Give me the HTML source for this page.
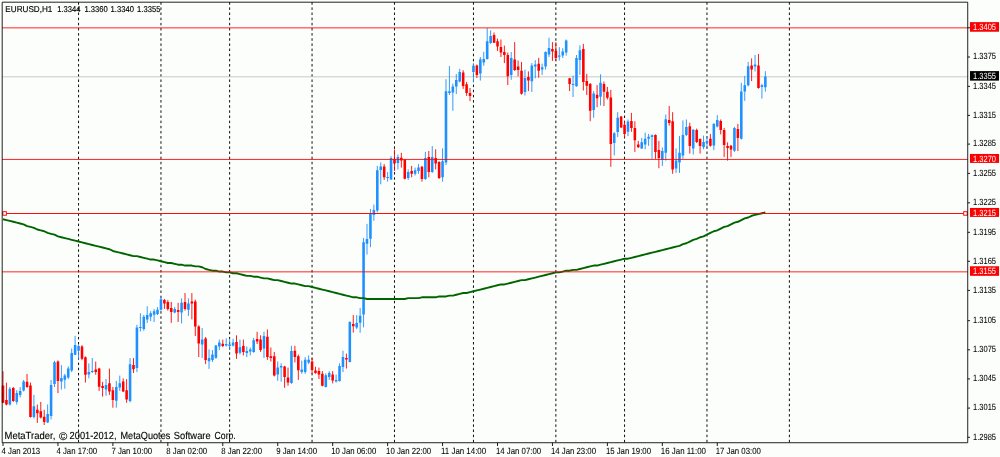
<!DOCTYPE html>
<html lang="en"><head><meta charset="utf-8"><title>EURUSD,H1</title>
<style>html,body{margin:0;padding:0;background:#fcfefb;overflow:hidden}svg{display:block}text{font-family:"Liberation Sans",sans-serif;fill:#000;text-rendering:geometricPrecision}.ax{font-size:9.0px;stroke:#000;stroke-width:0.06px}.ti{font-size:8.5px;stroke:#000;stroke-width:0.15px}.cp{font-size:10.3px;stroke:#000;stroke-width:0.12px}.w{fill:#fff;stroke:none}</style></head><body>
<svg width="1000" height="457" viewBox="0 0 1000 457">
<rect x="0" y="0" width="1000" height="457" fill="#fcfefb"/>
<g stroke="#000" stroke-width="0.95" stroke-dasharray="2.5 2.648" stroke-dashoffset="-0.05">
<line x1="78.55" y1="2.19" x2="78.55" y2="442.73"/>
<line x1="160.96" y1="2.19" x2="160.96" y2="442.73"/>
<line x1="229.64" y1="2.19" x2="229.64" y2="442.73"/>
<line x1="312.06" y1="2.19" x2="312.06" y2="442.73"/>
<line x1="394.48" y1="2.19" x2="394.48" y2="442.73"/>
<line x1="473.46" y1="2.19" x2="473.46" y2="442.73"/>
<line x1="555.87" y1="2.19" x2="555.87" y2="442.73"/>
<line x1="624.55" y1="2.19" x2="624.55" y2="442.73"/>
<line x1="706.97" y1="2.19" x2="706.97" y2="442.73"/>
<line x1="789.39" y1="2.19" x2="789.39" y2="442.73"/>
</g>
<line x1="2.19" y1="76.8" x2="967.73" y2="76.8" stroke="#c0c0c0" stroke-width="0.86"/>
<path d="M9.87 387.0V405.4M16.74 390.2V404.5M20.17 387.0V397.5M23.60 380.0V391.4M33.91 394.9V418.5M47.64 404.5V422.9M51.08 380.0V419.4M54.51 360.8V387.0M61.38 365.1V389.6M64.81 373.9V388.8M68.25 366.4V379.1M71.68 348.5V372.1M75.11 335.9V355.2M78.55 345.0V359.7M88.85 363.4V378.3M92.28 358.1V373.0M106.02 379.1V395.8M116.32 380.9V407.7M119.76 375.6V390.9M130.06 358.1V402.4M136.93 324.8V372.1M140.36 313.3V331.6M143.79 315.0V330.8M147.23 306.3V322.9M150.66 311.2V321.1M154.10 308.9V322.0M157.53 307.1V315.0M160.96 296.6V310.6M174.70 307.1V313.3M181.57 298.4V323.4M188.44 298.4V315.9M202.17 328.1V358.0M209.04 349.3V368.9M212.47 350.1V361.9M215.91 344.9V358.9M219.34 339.6V350.1M226.21 338.4V346.6M229.64 339.6V349.3M233.08 338.8V346.6M239.95 339.6V354.5M246.81 346.6V357.1M250.25 347.5V355.4M253.68 337.9V352.8M263.98 331.8V358.0M277.72 361.5V380.8M281.15 363.3V381.6M291.46 345.8V383.9M301.76 360.6V373.8M305.19 357.1V373.8M308.63 355.4V364.1M325.80 373.4V387.4M329.23 371.1V379.9M336.10 374.6V382.5M339.53 363.3V381.6M342.97 350.7V372.0M349.83 321.3V362.4M356.70 315.1V329.1M360.14 308.1V332.6M363.57 237.9V327.4M367.00 223.9V254.5M370.44 209.0V247.2M373.87 204.6V220.9M377.31 165.9V212.5M380.74 162.4V184.3M387.61 172.0V181.6M391.04 156.3V179.9M397.91 154.5V169.4M408.21 169.4V179.9M415.08 167.6V175.5M418.51 164.1V173.8M425.38 151.9V179.9M432.25 146.1V172.9M442.55 148.4V181.6M445.99 79.2V165.0M449.42 66.1V95.0M452.85 83.6V110.8M456.29 74.0V94.1M459.72 68.8V82.4M473.46 63.1V82.4M480.33 57.0V80.6M483.76 51.8V65.8M487.19 28.1V59.6M490.63 30.4V43.9M511.23 52.1V79.8M524.97 69.6V95.5M531.84 63.1V92.0M535.27 60.2V78.4M542.14 63.7V74.9M545.57 51.4V69.6M549.01 37.8V57.0M559.31 47.2V60.5M562.74 48.2V58.0M566.18 39.5V55.6M573.04 75.5V97.0M576.48 55.0V86.7M579.91 45.4V74.9M593.65 91.1V117.8M600.52 74.3V105.5M614.25 132.1V155.4M617.69 112.2V137.0M627.99 119.5V136.1M641.72 137.9V148.9M645.16 132.6V149.3M648.59 133.9V145.8M652.03 134.4V158.9M662.33 147.5V165.9M665.76 114.6V160.6M676.06 148.4V172.9M679.50 136.1V172.9M682.93 120.4V158.9M686.37 119.5V136.1M693.23 129.1V154.5M703.54 135.6V149.3M706.97 136.1V147.5M713.84 123.0V150.1M717.27 115.1V127.4M734.44 126.9V151.9M741.31 82.9V139.6M744.74 75.9V100.9M748.18 61.9V86.4M755.05 54.9V71.5M761.91 83.8V98.6M765.35 71.2V91.6" stroke="#1e90ff" stroke-width="0.9" fill="none"/>
<path d="M9.87 388.8V404.5M16.74 393.1V401.9M20.17 390.9V394.9M23.60 381.4V390.5M33.91 406.3V417.1M47.64 414.1V422.4M51.08 384.9V415.9M54.51 362.2V383.9M61.38 377.9V381.4M64.81 375.6V379.7M68.25 368.6V377.4M71.68 352.9V370.4M75.11 345.1V354.7M78.55 346.1V350.7M88.85 372.1V374.4M92.28 370.9V372.1M106.02 384.9V389.6M116.32 387.0V400.7M119.76 383.2V387.4M130.06 364.3V401.0M136.93 327.6V367.9M140.36 326.9V328.1M143.79 316.8V329.0M147.23 315.0V319.4M150.66 313.3V316.8M154.10 311.2V314.7M157.53 309.8V314.1M160.96 299.3V309.8M174.70 308.9V312.4M181.57 302.8V312.4M188.44 303.6V309.8M202.17 339.6V344.4M209.04 358.0V361.2M212.47 354.5V360.1M215.91 345.4V357.7M219.34 342.6V346.6M226.21 344.0V345.4M229.64 344.4V346.1M233.08 342.6V345.4M239.95 347.2V352.8M246.81 351.0V353.1M250.25 349.6V351.4M253.68 340.2V351.9M263.98 336.1V348.4M277.72 367.6V374.6M281.15 365.9V367.6M291.46 351.0V382.9M301.76 369.4V372.0M305.19 359.8V372.0M308.63 359.8V362.4M325.80 375.2V386.9M329.23 372.9V376.9M336.10 379.9V381.6M339.53 365.9V381.1M342.97 357.1V367.1M349.83 322.1V361.9M356.70 323.0V327.4M360.14 315.7V322.7M363.57 242.2V314.6M367.00 239.1V243.7M370.44 213.4V238.8M373.87 209.9V215.1M377.31 170.2V210.4M380.74 166.4V169.9M387.61 176.9V178.1M391.04 158.0V179.4M397.91 157.1V162.9M408.21 172.0V178.1M415.08 170.3V173.8M418.51 167.6V171.1M425.38 158.0V179.0M432.25 157.1V172.0M442.55 161.2V177.3M445.99 91.2V162.4M449.42 91.2V92.9M452.85 86.6V92.4M456.29 80.1V86.6M459.72 71.9V81.4M473.46 65.8V71.9M480.33 59.6V73.6M483.76 59.1V62.6M487.19 41.3V59.1M490.63 36.0V43.0M511.23 57.9V74.9M524.97 78.0V92.0M531.84 65.4V81.2M535.27 64.4V66.6M542.14 67.2V69.6M545.57 52.1V66.6M549.01 47.9V54.4M559.31 55.6V56.8M562.74 51.4V55.6M566.18 40.6V52.6M573.04 83.9V85.1M576.48 58.0V86.3M579.91 50.2V59.9M593.65 93.5V109.9M600.52 82.7V96.8M614.25 133.2V143.1M617.69 117.8V132.1M627.99 121.6V131.8M641.72 142.3V148.4M645.16 138.8V144.4M648.59 136.7V138.8M652.03 135.3V137.0M662.33 151.0V159.8M665.76 119.2V152.8M676.06 160.6V168.5M679.50 152.8V162.4M682.93 134.9V155.4M686.37 126.9V134.9M693.23 129.7V148.4M703.54 141.9V147.2M706.97 140.9V143.1M713.84 123.9V145.4M717.27 119.9V126.5M734.44 127.9V150.7M741.31 91.6V138.8M744.74 85.2V91.6M748.18 66.2V85.2M755.05 64.5V66.6M761.91 85.2V86.9M765.35 76.4V87.2" stroke="#1e90ff" stroke-width="2.57" fill="none"/>
<path d="M3.00 371.3V403.1M6.43 382.6V405.4M13.30 387.0V401.9M27.04 373.9V387.9M30.47 382.6V417.6M37.34 404.5V422.9M40.77 401.9V418.5M44.21 409.8V425.0M57.94 360.4V393.1M81.98 345.1V360.2M85.42 356.4V382.6M95.72 361.6V374.8M99.15 367.8V390.9M102.59 381.8V396.6M109.45 368.6V394.9M112.89 387.0V407.7M123.19 378.3V391.9M126.62 379.1V402.8M133.49 358.1V373.0M164.40 298.9V308.9M167.83 300.1V310.6M171.27 301.9V322.9M178.13 302.8V322.0M185.00 293.1V310.6M191.87 293.1V319.4M195.30 299.6V336.0M198.74 325.2V357.0M205.61 337.0V364.1M222.78 339.6V347.2M236.51 335.3V358.9M243.38 339.6V355.4M257.12 331.8V344.0M260.55 335.3V351.9M267.42 329.5V359.8M270.85 347.5V361.5M274.29 351.9V376.4M284.59 365.9V387.8M288.02 367.6V385.7M294.89 345.8V362.4M298.32 354.5V379.9M312.06 358.0V373.8M315.49 366.8V373.8M318.93 367.6V379.0M322.36 371.1V386.4M332.66 371.1V383.4M346.40 353.6V368.5M353.27 315.1V332.6M384.17 164.1V179.9M394.48 149.6V171.1M401.34 152.8V167.6M404.78 158.9V179.4M411.65 165.9V177.3M421.95 165.9V181.6M428.82 151.0V177.3M435.68 149.3V169.4M439.12 161.2V179.0M463.16 70.2V88.9M466.59 81.9V95.9M470.02 88.0V101.1M476.89 64.5V78.0M494.06 32.5V43.0M497.50 38.6V50.9M500.93 39.5V57.0M504.36 45.6V63.1M507.80 52.6V85.0M514.67 42.1V71.0M518.10 60.5V76.3M521.53 61.9V94.6M528.40 71.4V91.1M538.70 57.9V77.7M552.44 42.1V60.9M555.87 42.1V60.9M569.61 77.9V91.1M583.35 43.9V90.5M586.78 73.9V95.0M590.21 83.0V121.2M597.08 85.1V107.2M603.95 81.5V106.0M607.38 86.9V99.5M610.82 89.9V166.8M621.12 116.0V127.9M624.55 121.3V137.9M631.42 112.9V131.8M634.86 121.3V151.9M638.29 140.9V147.9M655.46 134.4V158.9M658.89 140.9V168.2M669.20 105.9V125.6M672.63 112.2V173.8M689.80 122.7V153.6M696.67 128.6V143.1M700.10 138.4V153.6M710.40 133.9V146.6M720.71 119.5V134.4M724.14 127.9V157.1M727.57 142.3V160.6M731.01 144.9V157.1M737.88 123.9V151.0M751.61 58.4V81.1M758.48 54.0V88.7" stroke="#ff0000" stroke-width="0.9" fill="none"/>
<path d="M3.00 385.6V402.8M6.43 400.1V404.5M13.30 387.9V401.0M27.04 381.8V387.0M30.47 385.6V417.1M37.34 409.8V413.3M40.77 411.2V417.6M44.21 416.8V422.0M57.94 361.6V380.9M81.98 346.6V358.7M85.42 357.3V374.8M95.72 369.5V372.1M99.15 368.6V386.7M102.59 386.1V387.9M109.45 383.2V391.4M112.89 390.2V400.1M123.19 381.4V391.4M126.62 390.2V399.6M133.49 365.1V369.2M164.40 300.1V303.6M167.83 301.9V308.9M171.27 308.0V311.9M178.13 310.1V311.9M185.00 301.9V308.9M191.87 301.4V303.6M195.30 301.4V326.4M198.74 326.4V343.4M205.61 338.4V360.1M222.78 343.7V346.1M236.51 341.9V353.6M243.38 346.1V351.9M257.12 339.1V341.4M260.55 339.6V350.1M267.42 336.7V357.1M270.85 356.3V358.0M274.29 356.3V375.5M284.59 366.4V376.9M288.02 377.6V382.5M294.89 350.7V357.1M298.32 356.3V370.3M312.06 361.5V369.9M315.49 370.6V372.9M318.93 371.1V374.6M322.36 373.8V385.7M332.66 374.6V380.4M346.40 358.0V359.4M353.27 323.9V326.2M384.17 166.4V177.3M394.48 158.9V163.6M401.34 157.7V160.6M404.78 159.8V178.7M411.65 171.1V173.8M421.95 166.8V179.0M428.82 157.1V172.0M435.68 158.0V163.6M439.12 161.9V178.1M463.16 72.6V85.9M466.59 84.2V92.9M470.02 92.9V95.9M476.89 65.4V74.9M494.06 35.1V42.7M497.50 41.3V46.5M500.93 46.9V52.6M504.36 52.1V54.9M507.80 54.9V76.3M514.67 59.6V70.1M518.10 66.6V70.1M521.53 70.7V93.8M528.40 77.1V80.6M538.70 63.7V70.7M552.44 49.1V51.4M555.87 50.9V57.9M569.61 78.3V83.9M583.35 49.0V82.1M586.78 80.9V85.7M590.21 83.9V110.8M597.08 94.7V98.2M603.95 83.9V91.7M607.38 91.7V97.8M610.82 97.6V144.0M621.12 116.4V127.4M624.55 124.8V133.9M631.42 120.9V127.9M634.86 127.9V140.2M638.29 144.4V147.2M655.46 134.9V151.9M658.89 150.1V158.0M669.20 119.9V123.0M672.63 121.3V169.4M689.80 126.2V146.1M696.67 130.0V141.9M700.10 139.1V146.1M710.40 138.8V145.8M720.71 120.9V130.0M724.14 130.0V144.9M727.57 146.1V147.9M731.01 145.8V149.6M737.88 129.1V137.9M751.61 65.4V69.4M758.48 65.4V88.1" stroke="#ff0000" stroke-width="2.57" fill="none"/>
<polyline fill="none" stroke="#006400" stroke-width="1.9" stroke-linejoin="round" points="3.00,219.22 6.43,220.08 9.87,220.94 13.30,221.79 16.74,222.65 20.17,223.51 23.60,224.37 27.04,226.08 30.47,226.94 33.91,227.80 37.34,229.51 40.77,230.37 44.21,231.23 47.64,232.95 51.08,233.81 54.51,234.66 57.94,236.38 61.38,237.24 64.81,238.09 68.25,238.95 71.68,239.81 75.11,240.67 78.55,241.53 81.98,242.38 85.42,243.24 88.85,244.10 92.28,244.96 95.72,245.82 99.15,246.67 102.59,247.53 106.02,248.39 109.45,249.25 112.89,250.97 116.32,251.82 119.76,252.68 123.19,253.54 126.62,254.40 130.06,255.25 133.49,256.11 136.93,256.11 140.36,256.97 143.79,257.83 147.23,258.69 150.66,259.55 154.10,259.55 157.53,260.40 160.96,261.26 164.40,262.12 167.83,262.98 171.27,262.98 174.70,263.83 178.13,264.69 181.57,264.69 185.00,265.55 188.44,265.55 191.87,265.55 195.30,266.41 198.74,266.41 202.17,267.27 205.61,268.98 209.04,269.84 212.47,270.70 215.91,270.70 219.34,271.56 222.78,271.56 226.21,272.42 229.64,272.42 233.08,273.27 236.51,273.27 239.95,274.13 243.38,274.99 246.81,275.85 250.25,275.85 253.68,276.70 257.12,276.70 260.55,277.56 263.98,278.42 267.42,278.42 270.85,279.28 274.29,280.14 277.72,280.14 281.15,281.00 284.59,281.85 288.02,282.71 291.46,283.57 294.89,283.57 298.32,284.43 301.76,285.28 305.19,286.14 308.63,286.14 312.06,287.00 315.49,287.86 318.93,288.72 322.36,289.57 325.80,290.43 329.23,291.29 332.66,292.15 336.10,293.01 339.53,293.87 342.97,294.72 346.40,295.58 349.83,296.44 353.27,297.30 356.70,297.30 360.14,298.15 363.57,298.15 367.00,299.01 370.44,299.01 373.87,299.01 377.31,299.01 380.74,299.01 384.17,299.01 387.61,299.01 391.04,299.01 394.48,299.01 397.91,299.01 401.34,299.01 404.78,299.01 408.21,298.15 411.65,298.15 415.08,298.15 418.51,298.15 421.95,297.30 425.38,297.30 428.82,297.30 432.25,297.30 435.68,297.30 439.12,296.44 442.55,296.44 445.99,296.44 449.42,295.58 452.85,295.58 456.29,294.72 459.72,293.87 463.16,293.01 466.59,293.01 470.02,292.15 473.46,291.29 476.89,290.43 480.33,289.57 483.76,288.72 487.19,287.86 490.63,287.00 494.06,286.14 497.50,285.28 500.93,284.43 504.36,284.43 507.80,283.57 511.23,282.71 514.67,281.85 518.10,281.00 521.53,280.14 524.97,280.14 528.40,279.28 531.84,278.42 535.27,277.56 538.70,276.70 542.14,275.85 545.57,274.99 549.01,274.13 552.44,273.27 555.87,272.42 559.31,272.42 562.74,271.56 566.18,270.70 569.61,270.70 573.04,269.84 576.48,269.84 579.91,268.98 583.35,268.12 586.78,267.27 590.21,266.41 593.65,265.55 597.08,265.55 600.52,264.69 603.95,263.83 607.38,262.98 610.82,262.12 614.25,261.26 617.69,260.40 621.12,259.55 624.55,258.69 627.99,258.69 631.42,257.83 634.86,256.97 638.29,256.11 641.72,255.25 645.16,254.40 648.59,253.54 652.03,252.68 655.46,251.82 658.89,250.97 662.33,250.11 665.76,249.25 669.20,248.39 672.63,247.53 676.06,246.67 679.50,245.82 682.93,244.10 686.37,243.24 689.80,241.53 693.23,239.81 696.67,238.95 700.10,237.24 703.54,236.38 706.97,234.66 710.40,232.95 713.84,231.23 717.27,230.37 720.71,228.66 724.14,226.94 727.57,226.08 731.01,224.37 734.44,222.65 737.88,221.79 741.31,220.08 744.74,218.36 748.18,217.50 751.61,215.79 755.05,214.93 758.48,214.07 761.91,213.21 765.35,212.35"/>
<line x1="2.19" y1="27.87" x2="967.73" y2="27.87" stroke="#ff0000" stroke-width="0.86"/>
<line x1="2.19" y1="159.45" x2="967.73" y2="159.45" stroke="#ff0000" stroke-width="0.86"/>
<line x1="2.19" y1="271.85" x2="967.73" y2="271.85" stroke="#ff0000" stroke-width="0.86"/>
<line x1="4.6" y1="213.5" x2="965.2" y2="213.5" stroke="#ff0000" stroke-width="0.95"/>
<rect x="2.8499999999999996" y="211.7" width="3.5" height="3.5" fill="#fff" stroke="#ff0000" stroke-width="0.95"/>
<rect x="963.7" y="211.7" width="3.5" height="3.5" fill="#fff" stroke="#ff0000" stroke-width="0.95"/>
<path d="M2.19 2.19H967.73V442.73H2.19Z" fill="none" stroke="#000" stroke-width="0.87"/>
<g class="ax">
<line x1="967.73" y1="57.03" x2="970.03" y2="57.03" stroke="#000" stroke-width="0.9"/>
<text x="973" y="59.38" textLength="23" lengthAdjust="spacingAndGlyphs">1.3375</text>
<line x1="967.73" y1="86.36" x2="970.03" y2="86.36" stroke="#000" stroke-width="0.9"/>
<text x="973" y="88.71" textLength="23" lengthAdjust="spacingAndGlyphs">1.3345</text>
<line x1="967.73" y1="115.40" x2="970.03" y2="115.40" stroke="#000" stroke-width="0.9"/>
<text x="973" y="117.75" textLength="23" lengthAdjust="spacingAndGlyphs">1.3315</text>
<line x1="967.73" y1="144.10" x2="970.03" y2="144.10" stroke="#000" stroke-width="0.9"/>
<text x="973" y="146.45" textLength="23" lengthAdjust="spacingAndGlyphs">1.3285</text>
<line x1="967.73" y1="173.40" x2="970.03" y2="173.40" stroke="#000" stroke-width="0.9"/>
<text x="973" y="175.75" textLength="23" lengthAdjust="spacingAndGlyphs">1.3255</text>
<line x1="967.73" y1="202.80" x2="970.03" y2="202.80" stroke="#000" stroke-width="0.9"/>
<text x="973" y="205.15" textLength="23" lengthAdjust="spacingAndGlyphs">1.3225</text>
<line x1="967.73" y1="232.30" x2="970.03" y2="232.30" stroke="#000" stroke-width="0.9"/>
<text x="973" y="234.65" textLength="23" lengthAdjust="spacingAndGlyphs">1.3195</text>
<line x1="967.73" y1="261.30" x2="970.03" y2="261.30" stroke="#000" stroke-width="0.9"/>
<text x="973" y="263.65" textLength="23" lengthAdjust="spacingAndGlyphs">1.3165</text>
<line x1="967.73" y1="290.40" x2="970.03" y2="290.40" stroke="#000" stroke-width="0.9"/>
<text x="973" y="292.75" textLength="23" lengthAdjust="spacingAndGlyphs">1.3135</text>
<line x1="967.73" y1="320.70" x2="970.03" y2="320.70" stroke="#000" stroke-width="0.9"/>
<text x="973" y="323.05" textLength="23" lengthAdjust="spacingAndGlyphs">1.3105</text>
<line x1="967.73" y1="349.80" x2="970.03" y2="349.80" stroke="#000" stroke-width="0.9"/>
<text x="973" y="352.15" textLength="23" lengthAdjust="spacingAndGlyphs">1.3075</text>
<line x1="967.73" y1="378.90" x2="970.03" y2="378.90" stroke="#000" stroke-width="0.9"/>
<text x="973" y="381.25" textLength="23" lengthAdjust="spacingAndGlyphs">1.3045</text>
<line x1="967.73" y1="408.10" x2="970.03" y2="408.10" stroke="#000" stroke-width="0.9"/>
<text x="973" y="410.45" textLength="23" lengthAdjust="spacingAndGlyphs">1.3015</text>
<line x1="967.73" y1="437.30" x2="970.03" y2="437.30" stroke="#000" stroke-width="0.9"/>
<text x="973" y="439.65" textLength="23" lengthAdjust="spacingAndGlyphs">1.2985</text>
<line x1="967.73" y1="27.8" x2="970.03" y2="27.8" stroke="#000" stroke-width="0.9"/>
<rect x="970" y="22.15" width="29" height="9.55" fill="#ff0000"/>
<text class="w" x="973" y="30.02" textLength="23" lengthAdjust="spacingAndGlyphs">1.3405</text>
<rect x="970" y="154.0" width="29" height="8.90" fill="#ff0000"/>
<text class="w" x="973" y="161.55" textLength="23" lengthAdjust="spacingAndGlyphs">1.3270</text>
<rect x="970" y="208.0" width="29" height="8.90" fill="#ff0000"/>
<text class="w" x="973" y="215.55" textLength="23" lengthAdjust="spacingAndGlyphs">1.3215</text>
<rect x="970" y="266.3" width="29" height="9.50" fill="#ff0000"/>
<text class="w" x="973" y="274.15" textLength="23" lengthAdjust="spacingAndGlyphs">1.3155</text>
<rect x="970" y="71.1" width="29" height="9.50" fill="#000"/>
<text class="w" x="973" y="78.95" textLength="23" lengthAdjust="spacingAndGlyphs">1.3355</text>
</g>
<g class="ax">
<line x1="3.00" y1="442.73" x2="3.00" y2="446.03000000000003" stroke="#000" stroke-width="0.9"/>
<text x="1.50" y="453.7" textLength="38.59" lengthAdjust="spacingAndGlyphs">4 Jan 2013</text>
<line x1="57.94" y1="442.73" x2="57.94" y2="446.03000000000003" stroke="#000" stroke-width="0.9"/>
<text x="56.44" y="453.7" textLength="40.76" lengthAdjust="spacingAndGlyphs">4 Jan 17:00</text>
<line x1="112.89" y1="442.73" x2="112.89" y2="446.03000000000003" stroke="#000" stroke-width="0.9"/>
<text x="111.39" y="453.7" textLength="40.76" lengthAdjust="spacingAndGlyphs">7 Jan 10:00</text>
<line x1="167.83" y1="442.73" x2="167.83" y2="446.03000000000003" stroke="#000" stroke-width="0.9"/>
<text x="166.33" y="453.7" textLength="40.76" lengthAdjust="spacingAndGlyphs">8 Jan 02:00</text>
<line x1="222.78" y1="442.73" x2="222.78" y2="446.03000000000003" stroke="#000" stroke-width="0.9"/>
<text x="221.28" y="453.7" textLength="40.76" lengthAdjust="spacingAndGlyphs">8 Jan 22:00</text>
<line x1="277.72" y1="442.73" x2="277.72" y2="446.03000000000003" stroke="#000" stroke-width="0.9"/>
<text x="276.22" y="453.7" textLength="40.76" lengthAdjust="spacingAndGlyphs">9 Jan 14:00</text>
<line x1="332.66" y1="442.73" x2="332.66" y2="446.03000000000003" stroke="#000" stroke-width="0.9"/>
<text x="331.16" y="453.7" textLength="45.10" lengthAdjust="spacingAndGlyphs">10 Jan 06:00</text>
<line x1="387.61" y1="442.73" x2="387.61" y2="446.03000000000003" stroke="#000" stroke-width="0.9"/>
<text x="386.11" y="453.7" textLength="45.10" lengthAdjust="spacingAndGlyphs">10 Jan 22:00</text>
<line x1="442.55" y1="442.73" x2="442.55" y2="446.03000000000003" stroke="#000" stroke-width="0.9"/>
<text x="441.05" y="453.7" textLength="45.10" lengthAdjust="spacingAndGlyphs">11 Jan 14:00</text>
<line x1="497.50" y1="442.73" x2="497.50" y2="446.03000000000003" stroke="#000" stroke-width="0.9"/>
<text x="496.00" y="453.7" textLength="45.10" lengthAdjust="spacingAndGlyphs">14 Jan 07:00</text>
<line x1="552.44" y1="442.73" x2="552.44" y2="446.03000000000003" stroke="#000" stroke-width="0.9"/>
<text x="550.94" y="453.7" textLength="45.10" lengthAdjust="spacingAndGlyphs">14 Jan 23:00</text>
<line x1="607.38" y1="442.73" x2="607.38" y2="446.03000000000003" stroke="#000" stroke-width="0.9"/>
<text x="605.88" y="453.7" textLength="45.10" lengthAdjust="spacingAndGlyphs">15 Jan 19:00</text>
<line x1="662.33" y1="442.73" x2="662.33" y2="446.03000000000003" stroke="#000" stroke-width="0.9"/>
<text x="660.83" y="453.7" textLength="45.10" lengthAdjust="spacingAndGlyphs">16 Jan 11:00</text>
<line x1="717.27" y1="442.73" x2="717.27" y2="446.03000000000003" stroke="#000" stroke-width="0.9"/>
<text x="715.77" y="453.7" textLength="45.10" lengthAdjust="spacingAndGlyphs">17 Jan 03:00</text>
</g>
<g class="ti">
<text x="5.35" y="11.95" textLength="47" lengthAdjust="spacingAndGlyphs">EURUSD,H1</text>
<text x="57.2" y="11.95" textLength="23.3" lengthAdjust="spacingAndGlyphs">1.3344</text>
<text x="84.4" y="11.95" textLength="23.3" lengthAdjust="spacingAndGlyphs">1.3360</text>
<text x="110.6" y="11.95" textLength="23.3" lengthAdjust="spacingAndGlyphs">1.3340</text>
<text x="137.1" y="11.95" textLength="23.3" lengthAdjust="spacingAndGlyphs">1.3355</text>
</g>
<g class="cp">
<text x="4.5" y="438.7" textLength="50.8" lengthAdjust="spacingAndGlyphs">MetaTrader,</text>
<text x="58.9" y="439.9" font-size="11.2" textLength="8.3" lengthAdjust="spacingAndGlyphs">©</text>
<text x="69.6" y="438.7" textLength="46.9" lengthAdjust="spacingAndGlyphs">2001-2012,</text>
<text x="120.5" y="438.7" textLength="49.8" lengthAdjust="spacingAndGlyphs">MetaQuotes</text>
<text x="173.7" y="438.7" textLength="37.0" lengthAdjust="spacingAndGlyphs">Software</text>
<text x="214.5" y="438.7" textLength="21.3" lengthAdjust="spacingAndGlyphs">Corp.</text>
</g>
</svg></body></html>
